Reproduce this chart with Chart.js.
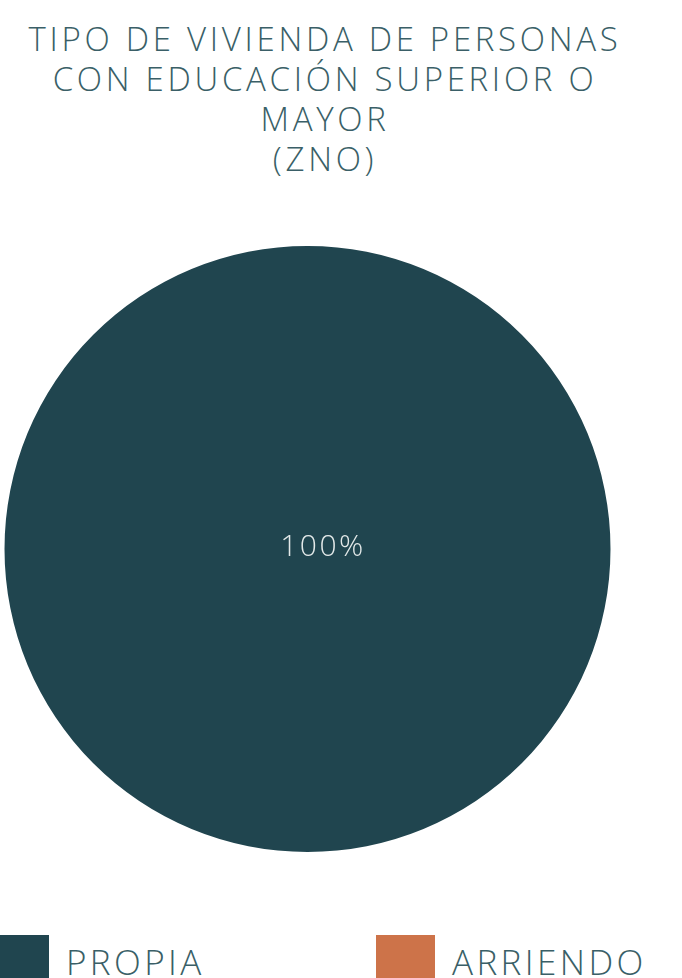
<!DOCTYPE html>
<html lang="es">
<head>
<meta charset="utf-8">
<title>Tipo de vivienda</title>
<script src="https://cdn.jsdelivr.net/npm/chart.js@4.4.1/dist/chart.umd.min.js"></script>
<style>
  html, body { margin: 0; padding: 0; background: #fff; overflow: hidden; }
  body { width: 682px; height: 978px; position: relative; font-family: 'Open Sans', sans-serif; font-weight: 300; color: #3a5f67; }
  #titulo {
    position: absolute; left: 0; top: 19px; width: 646px; padding-left: 4px; box-sizing: border-box;
    text-align: center; font-size: 33px; line-height: 40px; margin: 0;
    font-weight: 300; letter-spacing: 3.7px;
  }
  #wrap { position: absolute; left: 0; top: 0; width: 646px; height: 860px; }
  #leyenda { position: absolute; left: -10px; top: 935px; display: flex; font-size: 35px; letter-spacing: 3.4px; }
  #leyenda .item { display: flex; align-items: center; }
  #leyenda .item:first-child { width: 386px; }
  #leyenda .caja { width: 59px; height: 59px; margin-right: 17px; flex: none; }
  #leyenda .txt { position: relative; top: -3px; }
</style>
</head>
<body>
<h1 id="titulo"></h1>
<div id="wrap"><canvas id="graficoVivienda"></canvas></div>
<div id="leyenda"></div>
<script>
const categorias = ['PROPIA', 'ARRIENDO'];
const porcentajes = [100, 0];
const colores = ['#20454f', '#cd7349'];
const titulo = ['TIPO DE VIVIENDA DE PERSONAS', 'CON EDUCACIÓN SUPERIOR O', 'MAYOR', '(ZNO)'];

const fuente = "'Open Sans', sans-serif";

document.getElementById('titulo').innerHTML = titulo.join('<br>');

// porcentaje de cada porción, centrado en el lienzo (solo las que tienen valor)
const etiquetas = {
    id: 'etiquetas',
    afterDatasetsDraw(chart) {
        const ctx = chart.ctx;
        const meta = chart.getDatasetMeta(0);
        ctx.save();
        ctx.font = '300 30px ' + fuente;
        ctx.letterSpacing = '2.5px';
        ctx.fillStyle = '#e3e9e9';
        ctx.textAlign = 'center';
        ctx.textBaseline = 'middle';
        meta.data.forEach(function(arc, i) {
            const v = chart.data.datasets[0].data[i];
            if (!v) return;
            ctx.fillText(v + '%', chart.width / 2, arc.y - 2);
        });
        ctx.restore();
    }
};

// leyenda en HTML con los items que genera Chart.js
const leyendaHtml = {
    id: 'leyendaHtml',
    afterUpdate(chart) {
        const cont = document.getElementById('leyenda');
        cont.innerHTML = '';
        const items = chart.options.plugins.legend.labels.generateLabels(chart);
        items.forEach(function(item) {
            const div = document.createElement('div');
            div.className = 'item';
            const caja = document.createElement('span');
            caja.className = 'caja';
            caja.style.background = item.fillStyle;
            const txt = document.createElement('span');
            txt.className = 'txt';
            txt.textContent = item.text;
            div.appendChild(caja);
            div.appendChild(txt);
            cont.appendChild(div);
        });
    }
};

new Chart(document.getElementById('graficoVivienda').getContext('2d'), {
    type: 'pie',
    data: {
        labels: categorias,
        datasets: [{
            data: porcentajes,
            backgroundColor: colores,
            borderWidth: 0
        }]
    },
    options: {
        responsive: true,
        maintainAspectRatio: false,
        animation: false,
        layout: { padding: { top: 246, right: 31, bottom: 8 } },
        plugins: {
            legend: { display: false },
            tooltip: { enabled: false }
        }
    },
    plugins: [etiquetas, leyendaHtml]
});
</script>
</body>
</html>
